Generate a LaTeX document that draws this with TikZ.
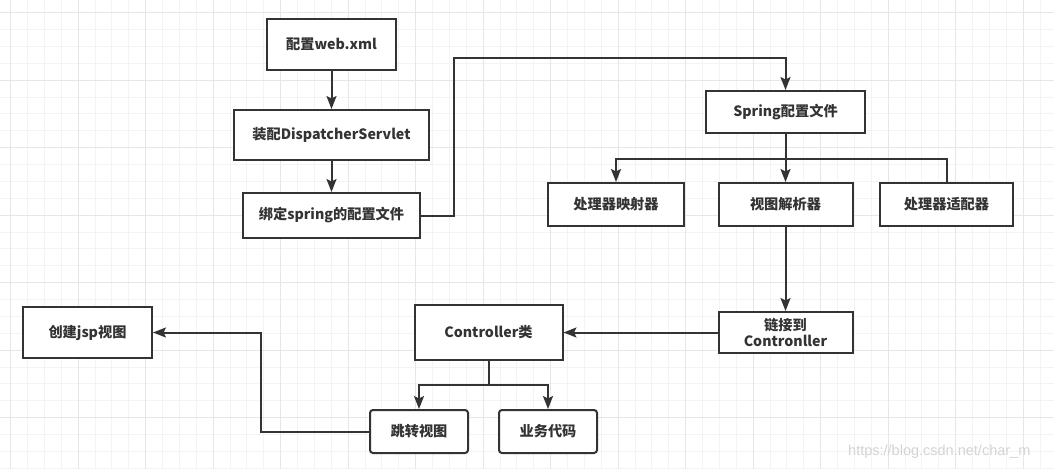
\documentclass[tikz,border=0pt]{standalone}
\usepackage{fontspec}
\setmainfont{Noto Sans CJK SC}
\newfontfamily\wmfont{Liberation Sans}
\usetikzlibrary{arrows.meta}
\definecolor{ink}{HTML}{333333}
\definecolor{gridminor}{HTML}{F3F3F3}
\definecolor{gridmajor}{HTML}{E6E6E6}
\definecolor{wm}{HTML}{D4D4D4}
\tikzset{
  box/.style={draw=ink, line width=2pt, fill=white, text=ink, inner sep=0pt,
    font=\fontsize{14.2}{16}\selectfont\bfseries, align=center},
  rbox/.style={box, rounded corners=3pt},
  conn/.style={draw=ink, line width=2pt},
  arr/.style={conn, -{Stealth[length=13pt, width=10pt, inset=2.5pt]}},
  gminor/.style={draw=gridminor, line width=1pt},
  gmajor/.style={draw=gridmajor, line width=1pt},
}
\begin{document}
\begin{tikzpicture}[x=1pt, y=-1pt]
\useasboundingbox (0,0) rectangle (1054,469);
\fill[white] (0,0) rectangle (1054,469);
% grid
\foreach \i in {-1,...,62} {
  \pgfmathsetmacro\xx{10.7+16.875*\i}
  \draw[gminor] (\xx,0) -- (\xx,469);
}
\foreach \i in {-1,...,27} {
  \pgfmathsetmacro\yy{12.7+16.875*\i}
  \draw[gminor] (0,\yy) -- (1054,\yy);
}
\foreach \i in {0,...,15} {
  \pgfmathsetmacro\xx{10.7+67.5*\i}
  \draw[gmajor] (\xx,0) -- (\xx,469);
}
\foreach \i in {0,...,6} {
  \pgfmathsetmacro\yy{12.7+67.5*\i}
  \draw[gmajor] (0,\yy) -- (1054,\yy);
}
% nodes
\node[box, minimum width=129pt, minimum height=51pt] (web) at (331.5,44.5) {配置web.xml};
\node[box, minimum width=195pt, minimum height=50pt] (disp) at (331.5,135) {装配DispatcherServlet};
\node[box, minimum width=177pt, minimum height=45pt] (bind) at (331.5,215.5) {绑定spring的配置文件};
\node[box, minimum width=159pt, minimum height=42pt] (spring) at (785.5,112) {Spring配置文件};
\node[box, minimum width=136pt, minimum height=43pt] (map) at (616,204.5) {处理器映射器};
\node[box, minimum width=134pt, minimum height=43pt] (view) at (785.5,204.5) {视图解析器};
\node[box, minimum width=133pt, minimum height=43pt] (adapt) at (946.5,204.5) {处理器适配器};
\node[box, minimum width=134pt, minimum height=41pt] (link) at (785.5,332.5) {链接到\\Contronller};
\node[box, minimum width=148pt, minimum height=55pt] (ctrl) at (488.5,332.5) {Controller类};
\node[box, minimum width=129pt, minimum height=51pt] (jsp) at (87.5,332.5) {创建jsp视图};
\node[rbox, minimum width=98pt, minimum height=43pt] (jump) at (419,431.5) {跳转视图};
\node[rbox, minimum width=98pt, minimum height=43pt] (biz) at (548,431.5) {业务代码};
% helper coordinates
\coordinate (c1) at (454,58);
\coordinate (b1) at (785.5,159);
\coordinate (b2) at (488.5,384.5);
\coordinate (c2) at (261,431.5);
% connectors
\draw[arr] (web) -- (disp);
\draw[arr] (disp) -- (bind);
\draw[arr] (bind.east) -| (c1) -| (spring.north);
\draw[arr] (spring.south) -- (view.north);
\draw[arr] (b1) -| (map.north);
\draw[conn] (b1) -| (adapt.north);
\draw[arr] (view.south) -- (link.north);
\draw[arr] (link.west) -- (ctrl.east);
\draw[arr] (ctrl.south) -- (b2) -| (jump.north);
\draw[arr] (b2) -| (biz.north);
\draw[arr] (jump.west) -- (c2) |- (jsp.east);
% watermark
\node[anchor=west, inner sep=0pt, text=wm, font=\wmfont\fontsize{14.5}{16}\selectfont] (mark) at (848,452) {https://blog.csdn.net/char\_m};
\end{tikzpicture}
\end{document}
